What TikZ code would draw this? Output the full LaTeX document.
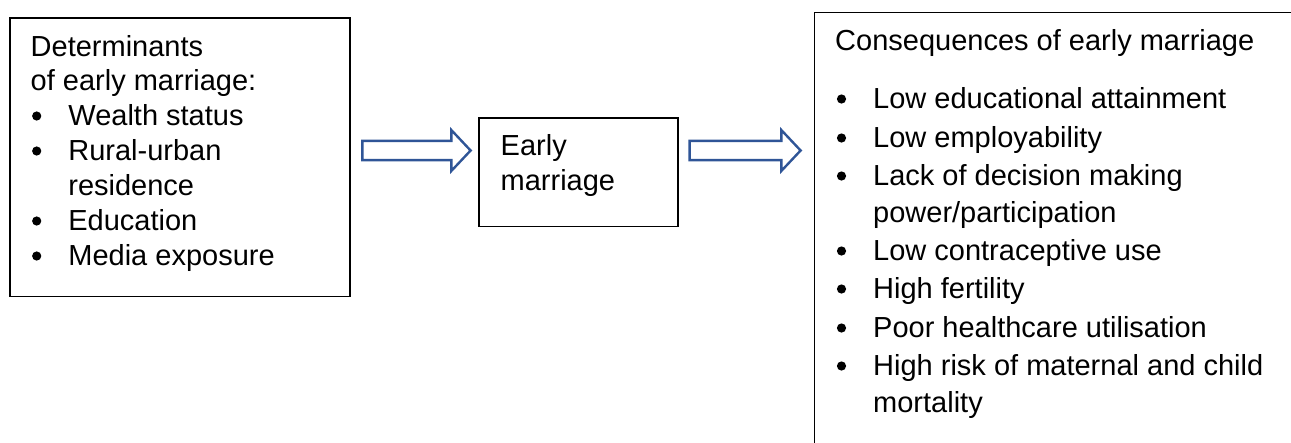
\documentclass[tikz,border=0pt]{standalone}
\usepackage{fontspec}
\setmainfont{Liberation Sans}
\definecolor{arrowblue}{HTML}{2F5597}
\tikzset{
  boxframe/.style={draw=black, line width=1.3pt, inner sep=0pt},
  txt/.style={anchor=base west, inner sep=0pt, font=\fontsize{29}{35}\selectfont, text=black},
  blockarrow/.style={draw=arrowblue, line width=2.4pt, line join=miter, fill=white},
  dot/.style={fill=black}
}
\newcommand{\bullitem}[4]{% name, x bullet, baseline, text
  \fill[dot] (#2,-#3+9) circle (4.6);
  \node[txt] (#1) at (#2+31.5,-#3) {#4};
}
\begin{document}
\begin{tikzpicture}[x=1pt,y=1pt]
\useasboundingbox (0,0) rectangle (1291,-442);
\clip (0,0) rectangle (1291,-442);
% boxes
\node[boxframe, minimum width=340pt, minimum height=278.4pt, anchor=north west] (det) at (9.3,-17.3) {};
\node[boxframe, minimum width=199pt, minimum height=108.4pt, anchor=north west] (early) at (478.3,-117.3) {};
\node[boxframe, minimum width=520pt, minimum height=470pt, anchor=north west] (cons) at (814,-11.7) {};
% left text
\node[txt] (d1) at (30.5,-56.7) {Determinants};
\node[txt] (d2) at (30.5,-90.5) {of early marriage:};
\bullitem{d3}{36.7}{125}{Wealth status}
\bullitem{d4}{36.7}{160}{Rural-urban}
\node[txt] (d5) at (68.2,-195) {residence};
\bullitem{d6}{36.7}{230}{Education}
\bullitem{d7}{36.7}{265}{Media exposure}
% middle text
\node[txt] (e1) at (500.5,-155) {Early};
\node[txt] (e2) at (500.5,-190.7) {marriage};
% right text
\node[txt] (c0) at (835,-50) {Consequences of early marriage};
\bullitem{c1}{841.5}{108}{Low educational attainment}
\bullitem{c2}{841.5}{147}{Low employability}
\bullitem{c3}{841.5}{185}{Lack of decision making}
\node[txt] (c4) at (873,-222.5) {power/participation};
\bullitem{c5}{841.5}{260}{Low contraceptive use}
\bullitem{c6}{841.5}{298}{High fertility}
\bullitem{c7}{841.5}{337}{Poor healthcare utilisation}
\bullitem{c8}{841.5}{375}{High risk of maternal and child}
\node[txt] (c9) at (873,-412) {mortality};
% block arrows between boxes
\coordinate (a1s) at ([xshift=11.7pt]det.east |- 0,-150.5);
\coordinate (a2s) at ([xshift=11pt]early.east |- 0,-150.5);
\draw[blockarrow] (a1s) ++(0,9.6) -- ++(89,0) -- ++(0,10.9) -- ++(19.3,-20.5) -- ++(-19.3,-20.5) -- ++(0,10.9) -- ++(-89,0) -- cycle;
\draw[blockarrow] (a2s) ++(0,9.6) -- ++(91.7,0) -- ++(0,10.9) -- ++(19.3,-20.5) -- ++(-19.3,-20.5) -- ++(0,10.9) -- ++(-91.7,0) -- cycle;
\end{tikzpicture}
\end{document}
